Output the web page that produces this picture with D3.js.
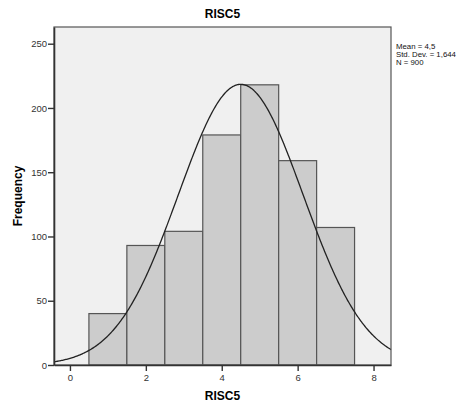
<!DOCTYPE html>
<html>
<head>
<meta charset="utf-8">
<script src="https://cdn.jsdelivr.net/npm/d3@7"></script>
<style>
  body { margin: 0; background: #fff; }
  svg { display: block; font-family: "Liberation Sans", Arial, sans-serif; }
</style>
</head>
<body>
<svg id="chart" width="469" height="405"></svg>
<script>
// histogram data
const binCenters = [1, 2, 3, 4, 5, 6, 7];
const binCounts = [40, 93, 104, 179, 218, 159, 107];
const xTicks = [0, 2, 4, 6, 8];
const yTicks = [0, 50, 100, 150, 200, 250];
const statLines = ["Mean = 4,5", "Std. Dev. = 1,644", "N = 900"];
const mean = 4.5, sd = 1.644, n = 900, binWidth = 1;

const width = 469, height = 405;
const margin = { top: 27, right: 78, bottom: 40, left: 54 };
const plotW = width - margin.left - margin.right;
const plotH = height - margin.top - margin.bottom;

const svg = d3.select("#chart");
const g = svg.append("g").attr("transform", `translate(${margin.left},${margin.top})`);

const x = d3.scaleLinear().domain([-0.42, 8.46]).range([0, plotW]);
const y = d3.scaleLinear().domain([0, 250 * plotH / 321.3]).range([plotH, 0]);

// plot background
g.append("rect")
  .attr("width", plotW).attr("height", plotH)
  .attr("fill", "#f0f0f0");

// bars
g.selectAll("rect.bar")
  .data(binCenters)
  .join("rect")
  .attr("class", "bar")
  .attr("x", (d) => x(d - binWidth / 2))
  .attr("width", (d) => x(d + binWidth / 2) - x(d - binWidth / 2))
  .attr("y", (d, i) => y(binCounts[i]))
  .attr("height", (d, i) => plotH - y(binCounts[i]))
  .attr("fill", "#cccccc")
  .attr("stroke", "#555")
  .attr("stroke-width", 1.2);

// normal curve
const pts = d3.range(0, 401).map((i) => {
  const xv = x.domain()[0] + (x.domain()[1] - x.domain()[0]) * i / 400;
  const yv = n * binWidth / (sd * Math.sqrt(2 * Math.PI)) *
    Math.exp(-0.5 * ((xv - mean) / sd) ** 2);
  return [xv, yv];
});
g.append("path")
  .datum(pts)
  .attr("fill", "none")
  .attr("stroke", "#222")
  .attr("stroke-width", 1.3)
  .attr("d", d3.line().x((d) => x(d[0])).y((d) => y(d[1])));

// frame
g.append("rect")
  .attr("width", plotW).attr("height", plotH)
  .attr("fill", "none")
  .attr("stroke", "#555")
  .attr("stroke-width", 1.2);

// axes
const yAxis = g.append("g")
  .call(d3.axisLeft(y).tickValues(yTicks).tickSize(6).tickPadding(1).tickSizeOuter(0));
const xAxis = g.append("g")
  .attr("transform", `translate(0,${plotH})`)
  .call(d3.axisBottom(x).tickValues(xTicks).tickSize(6).tickPadding(3).tickSizeOuter(0));
[yAxis, xAxis].forEach((a) => {
  a.select(".domain").attr("stroke", "#333").attr("stroke-width", 1.6);
  a.selectAll(".tick line").attr("stroke", "#333").attr("stroke-width", 1.4);
  a.selectAll(".tick text")
    .attr("fill", "#333")
    .style("font-size", "9.5px")
    .style("font-family", "'Liberation Sans', Arial, sans-serif");
});

// titles
svg.append("text")
  .attr("x", margin.left + plotW / 2).attr("y", 18)
  .attr("text-anchor", "middle")
  .style("font-size", "12px").style("font-weight", "bold")
  .text("RISC5");
svg.append("text")
  .attr("x", margin.left + plotW / 2).attr("y", 400)
  .attr("text-anchor", "middle")
  .style("font-size", "12px").style("font-weight", "bold")
  .text("RISC5");
svg.append("text")
  .attr("transform", `translate(22,${margin.top + plotH / 2}) rotate(-90)`)
  .attr("text-anchor", "middle")
  .style("font-size", "12px").style("font-weight", "bold")
  .text("Frequency");

// stats box text
svg.append("g")
  .selectAll("text")
  .data(statLines)
  .join("text")
  .attr("x", margin.left + plotW + 5)
  .attr("y", (d, i) => 49 + i * 8)
  .style("font-size", "7.8px")
  .attr("fill", "#111")
  .text((d) => d);
</script>
</body>
</html>
